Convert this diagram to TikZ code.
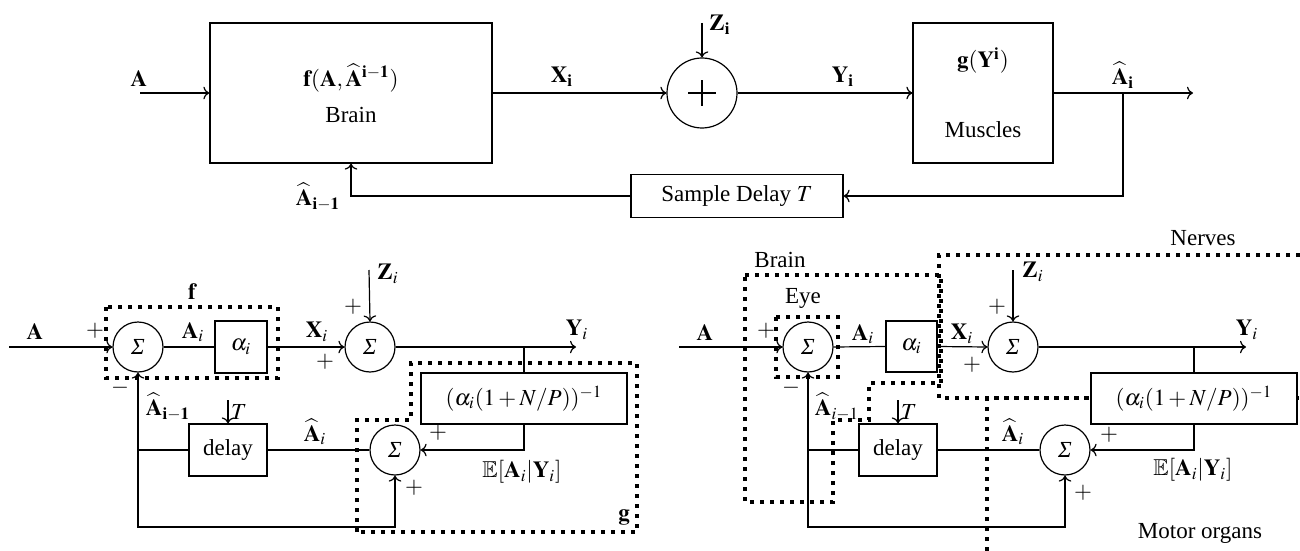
\documentclass[tikz,border=0pt]{standalone}
\usepackage{amssymb}
\usepackage{mathptmx}
\usepackage{fontspec}
\setmainfont{Liberation Serif}
\usetikzlibrary{arrows.meta}

\begin{document}
\fontsize{11.5}{14}\selectfont
\begin{tikzpicture}[x=0.5pt, y=-0.5pt, line width=0.6pt,
      blk/.style={draw, fill=white, inner sep=0pt, align=center},
      sum/.style={draw, circle, fill=white, minimum size=25pt, inner sep=0pt},
      arr/.style={-{To[length=3pt]}},
      lab/.style={inner sep=0pt},
      dots/.style={line width=1.8pt, dash pattern=on 1.8pt off 3.2pt}]
    \useasboundingbox (0,0) rectangle (1300,551);
    % top: brain / channel / muscles
    \node[blk, minimum width=141pt, minimum height=70pt] (br) at (351,93)
          {$\mathbf{f}(\mathbf{A},\widehat{\mathbf{A}}^{\mathbf{i-1}})$\\[4pt] Brain};
    \node[sum, minimum size=35pt, path picture={
          \draw (path picture bounding box.center) ++(-6.8pt,0) -- ++(13.6pt,0);
          \draw (path picture bounding box.center) ++(0,-6.5pt) -- ++(0,13pt);}] (pl) at (702,93) {};
    \node[blk, minimum width=70pt, minimum height=70pt] (mu) at (983,93)
          {$\mathbf{g}(\mathbf{Y}^{\mathbf{i}})$\\[21pt] Muscles};
    \node[blk, minimum width=106pt, minimum height=21.5pt] (sd) at (737,196) {Sample Delay $T$};
    \coordinate (tin) at (140,93);
    \coordinate (tz) at (702,23);
    \coordinate (tout) at (1193,93);
    \coordinate (tbr) at (1123,93);
    \draw[arr] (tin) -- (br.west);
    \draw[arr] (br.east) -- (pl.west);
    \draw[arr] (tz) -- (pl.north);
    \draw[arr] (pl.east) -- (mu.west);
    \draw[arr] (mu.east) -- (tout);
    \draw[arr] (tbr) |- (sd.east);
    \draw[arr] (sd.west) -| (br.south);
    \node[lab] (ta) at (139,79) {$\mathbf{A}$};
    \node[lab] (tx) at (562,77) {$\mathbf{X_i}$};
    \node[lab] (tzl) at (720,25) {$\mathbf{Z_i}$};
    \node[lab] (ty) at (843,77) {$\mathbf{Y_i}$};
    \node[lab] (tah) at (1123,75) {$\widehat{\mathbf{A}}_{\mathbf{i}}$};
    \node[lab] (tam) at (318,197) {$\widehat{\mathbf{A}}_{\mathbf{i-1}}$};

    % bottom left: f and g
    \draw[dots] (106,307) rectangle (278,378);
    \draw[dots] (357,532) -- (357,420) -- (411,420) -- (411,363) -- (637,363) -- (637,532) -- cycle;
    \node[sum] (ls1) at (138,347) {\itshape Σ};
    \node[blk, minimum size=26pt] (lal) at (241,347) {$\alpha_i$};
    \node[sum] (ls2) at (370,347) {\itshape Σ};
    \node[blk, minimum width=103pt, minimum height=25.5pt] (lgn) at (524,398.5) {$(\alpha_i(1+N/P))^{-1}$};
    \node[sum] (ls3) at (395,450) {\itshape Σ};
    \node[blk, minimum width=39pt, minimum height=26pt] (ldl) at (228,450) {delay};
    \coordinate (lin) at (9,347);
    \coordinate (lzt) at (369,270);
    \coordinate (lout) at (576,347);
    \coordinate (lbr) at (524,347);
    \coordinate (ltt) at (228,400);
    \coordinate (lj) at (138,450);
    \coordinate (lb) at (138,527);
    \draw[arr] (lin) -- (ls1.west);
    \draw (ls1.east) -- (lal.west);
    \draw[arr] (lal.east) -- (ls2.west);
    \draw[arr] (lzt) -- (ls2.north);
    \draw[arr] (ls2.east) -- (lout);
    \draw (lbr) -- (lgn.north);
    \draw[arr] (lgn.south) |- (ls3.east);
    \draw (ldl.east) -- (ls3.west);
    \draw[arr] (ltt) -- (ldl.north);
    \draw (ldl.west) -- (lj);
    \draw[arr] (lj) -- (ls1.south);
    \draw[arr] (lj) -- (lb) -| (ls3.south);
    \node[lab] (lf) at (192,292) {$\mathbf{f}$};
    \node[lab] (lg) at (624,517) {$\mathbf{g}$};
    \node[lab] (la) at (35,332) {$\mathbf{A}$};
    \node[lab] (lp1) at (95,331) {$+$};
    \node[lab] (lai) at (193,332) {$\mathbf{A}_i$};
    \node[lab] (lx) at (317,332) {$\mathbf{X}_i$};
    \node[lab] (lp2) at (325,362) {$+$};
    \node[lab] (lz) at (388,274) {$\mathbf{Z}_i$};
    \node[lab] (lp3) at (353,307) {$+$};
    \node[lab] (ly) at (577,330) {$\mathbf{Y}_i$};
    \node[lab] (lm) at (120,388) {$-$};
    \node[lab] (lam) at (168,407) {$\widehat{\mathbf{A}}_{\mathbf{i-1}}$};
    \node[lab] (lt) at (239,412) {$T$};
    \node[lab] (lah) at (315,432) {$\widehat{\mathbf{A}}_i$};
    \node[lab] (lp4) at (438,433) {$+$};
    \node[lab] (le) at (522,472) {$\mathbb{E}[\mathbf{A}_i|\mathbf{Y}_i]$};
    \node[lab] (lp5) at (414,488) {$+$};

    % bottom right: brain, eye, nerves, motor organs
    \draw[dots] (776,317) rectangle (838,377);
    \draw[dots] (745,275) -- (941,275) -- (941,383) -- (869,383) -- (869,420) -- (833,420)
          -- (833,502) -- (745,502) -- cycle;
    \draw[dots] (1300,255) -- (939,255) -- (939,398) -- (1300,398);
    \draw[dots] (987,551) -- (987,398) -- (1300,398);
    \node[sum] (rs1) at (808,347) {\itshape Σ};
    \node[blk, minimum size=25.5pt] (ral) at (911.5,346.5) {$\alpha_i$};
    \node[sum] (rs2) at (1013,347) {\itshape Σ};
    \node[blk, minimum width=103pt, minimum height=25.5pt] (rgn) at (1194,398.5) {$(\alpha_i(1+N/P))^{-1}$};
    \node[sum] (rs3) at (1065,450) {\itshape Σ};
    \node[blk, minimum width=39pt, minimum height=26pt] (rdl) at (898,450) {delay};
    \coordinate (rin) at (679,347);
    \coordinate (rzt) at (1013,270);
    \coordinate (rout) at (1246,347);
    \coordinate (rbr) at (1194,347);
    \coordinate (rtt) at (898,400);
    \coordinate (rj) at (808,450);
    \coordinate (rb) at (808,527);
    \draw[arr] (rin) -- (rs1.west);
    \draw (rs1.east) -- (ral.west);
    \draw[arr] (ral.east) -- (rs2.west);
    \draw[arr] (rzt) -- (rs2.north);
    \draw[arr] (rs2.east) -- (rout);
    \draw (rbr) -- (rgn.north);
    \draw[arr] (rgn.south) |- (rs3.east);
    \draw (rdl.east) -- (rs3.west);
    \draw[arr] (rtt) -- (rdl.north);
    \draw (rdl.west) -- (rj);
    \draw[arr] (rj) -- (rs1.south);
    \draw[arr] (rj) -- (rb) -| (rs3.south);
    \node[lab] (rbrain) at (780,260) {Brain};
    \node[lab] (reye) at (803,298) {Eye};
    \node[lab] (rnerv) at (1203,238) {Nerves};
    \node[lab] (rmot) at (1200,533) {Motor organs};
    \node[lab] (ra) at (705,333) {$\mathbf{A}$};
    \node[lab] (rp1) at (766,331) {$+$};
    \node[lab] (rai) at (863,334) {$\mathbf{A}_i$};
    \node[lab] (rx) at (962,334) {$\mathbf{X}_i$};
    \node[lab] (rp2) at (972,365) {$+$};
    \node[lab] (rz) at (1033,272) {$\mathbf{Z}_i$};
    \node[lab] (rp3) at (997,307) {$+$};
    \node[lab] (ry) at (1247,330) {$\mathbf{Y}_i$};
    \node[lab] (rm) at (791,388) {$-$};
    \node[lab] (ram) at (837,407) {$\widehat{\mathbf{A}}_{i-1}$};
    \node[lab] (rt) at (909,412) {$T$};
    \node[lab] (rah) at (1013,432) {$\widehat{\mathbf{A}}_i$};
    \node[lab] (rp4) at (1109,435) {$+$};
    \node[lab] (re) at (1193,470) {$\mathbb{E}[\mathbf{A}_i|\mathbf{Y}_i]$};
    \node[lab] (rp5) at (1083,493) {$+$};
  \end{tikzpicture}
\end{document}
